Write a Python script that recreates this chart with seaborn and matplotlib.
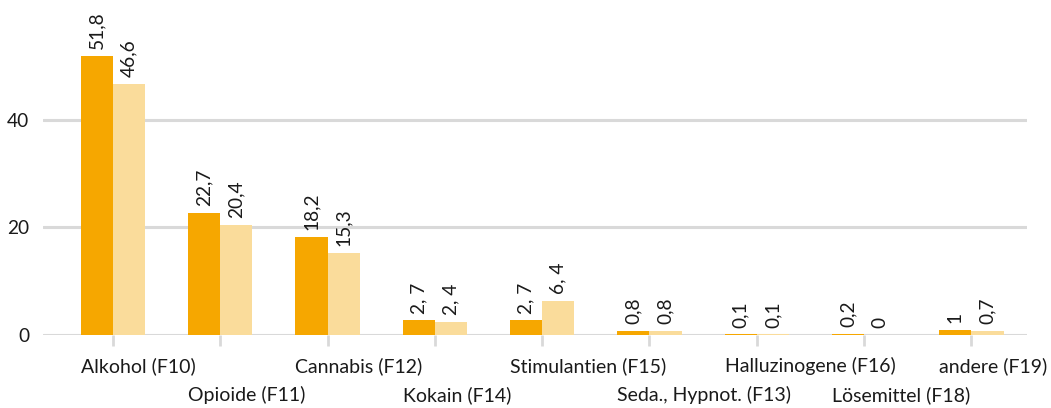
import matplotlib
matplotlib.use("Agg")
import matplotlib.pyplot as plt
import seaborn as sns
import pandas as pd

# Categories (substance groups) and the two series
categories = [
    "Alkohol (F10)", "Opioide (F11)", "Cannabis (F12)", "Kokain (F14)",
    "Stimulantien (F15)", "Seda., Hypnot. (F13)", "Halluzinogene (F16)",
    "Lösemittel (F18)", "andere (F19)",
]
series_names = ["Gruppe A", "Gruppe B"]
values_a = [51.8, 22.7, 18.2, 2.7, 2.7, 0.8, 0.1, 0.2, 1.0]
values_b = [46.6, 20.4, 15.3, 2.4, 6.4, 0.8, 0.1, 0.0, 0.7]
labels_a = ["51,8", "22,7", "18,2", "2, 7", "2, 7", "0,8", "0,1", "0,2", "1"]
labels_b = ["46,6", "20,4", "15,3", "2, 4", "6, 4", "0,8", "0,1", "0", "0,7"]
y_ticks = [0, 20, 40]

df = pd.DataFrame({
    "Kategorie": categories * 2,
    "Wert": values_a + values_b,
    "Serie": [series_names[0]] * len(categories) + [series_names[1]] * len(categories),
})

sns.set_theme(style="white")
plt.rcParams["font.family"] = ["Lato", "DejaVu Sans"]

GRID = "#D9D9D9"
TXT = "#1a1a1a"
FS = 13.8
BAR_WIDTH = 0.6

fig = plt.figure(figsize=(10.51, 4.08), dpi=100)
ax = fig.add_axes([43 / 1051, 73 / 408, (1027 - 43) / 1051, (335 - 12) / 408])

sns.barplot(
    data=df, x="Kategorie", y="Wert", hue="Serie", order=categories,
    hue_order=series_names, palette=["#F6A700", "#FADC9B"], saturation=1,
    width=BAR_WIDTH, legend=False, ax=ax, zorder=3, edgecolor="none", linewidth=0,
)

ax.set_xlim(-0.652, 8.518)
ax.set_ylim(0, 60)
ax.set_yticks(y_ticks)
ax.set_yticklabels([str(t) for t in y_ticks], fontsize=FS, color=TXT)
ax.yaxis.grid(True, color=GRID, linewidth=2.2, zorder=0)
ax.set_axisbelow(True)
for s in ax.spines.values():
    s.set_visible(False)
ax.tick_params(axis="y", length=0, pad=10)

# tick marks at the group centres; names are set separately below
ax.set_xticks(range(len(categories)))
ax.set_xticklabels([])
ax.tick_params(axis="x", bottom=True, length=8, width=2, color=GRID)
ax.set_xlabel("")
ax.set_ylabel("")

# staggered category names, left-aligned with the left edge of each group
ax_h = ax.get_position().height * fig.get_figheight() * fig.dpi
for i, name in enumerate(categories):
    row_px = 31 if i % 2 == 0 else 60
    ax.text(i - BAR_WIDTH / 2, -row_px / ax_h, name,
            transform=ax.get_xaxis_transform(), ha="left", va="center",
            fontsize=14, color=TXT)

for cont, labs in zip(ax.containers, [labels_a, labels_b]):
    ax.bar_label(cont, labels=labs, rotation=90, padding=5, fontsize=FS, color=TXT)

fig.savefig("out.png", dpi=100)
